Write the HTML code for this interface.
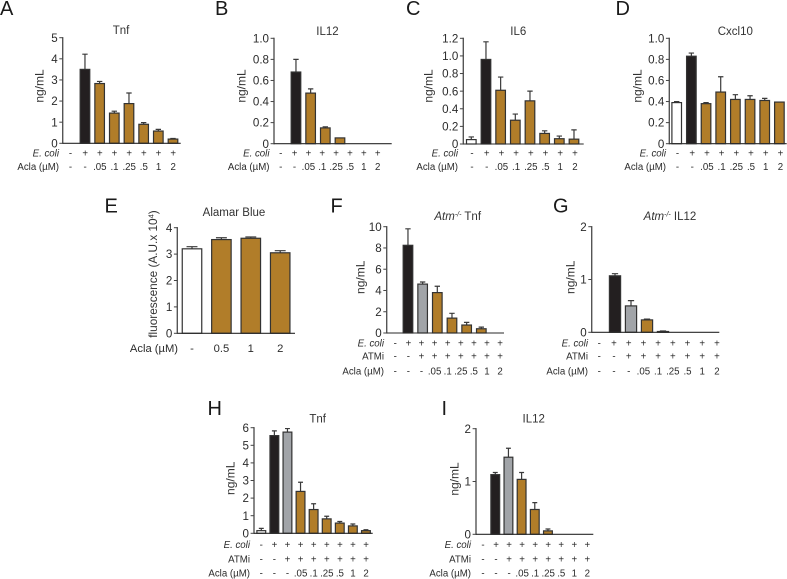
<!DOCTYPE html>
<html>
<head>
<meta charset="utf-8">
<title>Cytokine bar chart panels</title>
<style>
html,body{margin:0;padding:0;background:#fff;}
svg{display:block;font-family:"Liberation Sans",Arial,sans-serif;fill:#2b2b2b;}
.letter{font-size:20px;fill:#1a1a1a;}
.title{font-size:11.5px;text-anchor:middle;fill:#333;}
</style>
</head>
<body>
<svg id="figure" width="787" height="579" viewBox="0 0 787 579" xmlns="http://www.w3.org/2000/svg">
  <rect width="787" height="579" fill="#fff"/>
  <text class="letter" x="0" y="15">A</text>
  <text class="letter" x="215" y="15">B</text>
  <text class="letter" x="406" y="15">C</text>
  <text class="letter" x="615.5" y="15">D</text>
  <text class="letter" x="104.5" y="212.7">E</text>
  <text class="letter" x="330.5" y="212.7">F</text>
  <text class="letter" x="553" y="212.7">G</text>
  <text class="letter" x="207.5" y="415">H</text>
  <text class="letter" x="441.5" y="415">I</text>

  <text class="title" x="121" y="34">Tnf</text>
  <text class="title" x="327.5" y="35">IL12</text>
  <text class="title" x="518.3" y="35">IL6</text>
  <text class="title" x="735.3" y="35">Cxcl10</text>
  <text class="title" x="234" y="216">Alamar Blue</text>
  <text class="title" x="457.7" y="220"><tspan font-style="italic">Atm</tspan><tspan font-style="italic" font-size="7" dy="-3.5">-/-</tspan><tspan dy="3.5"> Tnf</tspan></text>
  <text class="title" x="670" y="220"><tspan font-style="italic">Atm</tspan><tspan font-style="italic" font-size="7" dy="-3.5">-/-</tspan><tspan dy="3.5"> IL12</tspan></text>
  <text class="title" x="317.7" y="422.7">Tnf</text>
  <text class="title" x="533.7" y="422.7">IL12</text>
  <text font-size="11.8" fill="#333" text-anchor="middle" transform="translate(157,274) rotate(-90)">fluorescence (A.U.x 10<tspan font-size="7.5" dy="-3.5">4</tspan><tspan dy="3.5">)</tspan></text>
</svg>
<script>
// Row labels
const ecoli8 = ['-','+','+','+','+','+','+','+'];
const acla8 = ['-','-','.05','.1','.25','.5','1','2'];
const ecoli9 = ['-','+','+','+','+','+','+','+','+'];
const atmi9 = ['-','-','+','+','+','+','+','+','+'];
const acla9 = ['-','-','-','.05','.1','.25','.5','1','2'];
const aclaE = ['-','0.5','1','2'];

// Tick labels
const ticksA = ['0','1','2','3','4','5'];
const ticksB = ['0','0.2','0.4','0.6','0.8','1.0'];
const ticksC = ['0','0.2','0.4','0.6','0.8','1.0','1.2'];
const ticksD = ['0','0.2','0.4','0.6','0.8','1.0'];
const ticksE = ['0','1','2','3','4'];
const ticksF = ['0','2','4','6','8','10'];
const ticksG = ['0','1','2'];
const ticksH = ['0','1','2','3','4','5','6'];
const ticksI = ['0','1','2'];

// Series values
const valuesA = [0,3.5,2.83,1.43,1.88,0.9,0.58,0.2];
const upperA = [0,4.22,2.93,1.52,2.38,0.98,0.66,0.23];
const kindsA = ['white','black','acla','acla','acla','acla','acla','acla'];

const valuesB = [0,0.68,0.48,0.15,0.055,0,0,0];
const upperB = [0,0.8,0.52,0.16,0.055,0,0,0];
const kindsB = ['white','black','acla','acla','acla','acla','acla','acla'];

const valuesC = [0.05,0.96,0.61,0.27,0.49,0.12,0.06,0.055];
const upperC = [0.08,1.16,0.76,0.34,0.6,0.15,0.09,0.16];
const kindsC = ['white','black','acla','acla','acla','acla','acla','acla'];

const valuesD = [0.39,0.83,0.38,0.49,0.42,0.42,0.41,0.395];
const upperD = [0.4,0.86,0.39,0.635,0.465,0.455,0.43,0.395];
const kindsD = ['white','black','acla','acla','acla','acla','acla','acla'];

const valuesE = [3.2,3.55,3.6,3.05];
const upperE = [3.28,3.62,3.65,3.13];
const kindsE = ['white','acla','acla','acla'];

const valuesF = [0,8.25,4.6,3.8,1.4,0.75,0.4,0];
const upperF = [0,9.8,4.8,4.4,1.85,1.0,0.55,0];
const kindsF = ['white','black','grey','acla','acla','acla','acla','acla'];

const valuesG = [0,1.07,0.5,0.235,0.015,0,0,0];
const upperG = [0,1.11,0.6,0.25,0.025,0,0,0];
const kindsG = ['white','black','grey','acla','acla','acla','acla','acla'];

const valuesH = [0.15,5.55,5.75,2.38,1.35,0.82,0.58,0.42,0.15];
const upperH = [0.28,5.82,5.95,2.9,1.68,0.97,0.67,0.53,0.2];
const kindsH = ['white','black','grey','acla','acla','acla','acla','acla','acla'];

const valuesI = [0,1.13,1.46,1.04,0.47,0.065,0,0,0];
const upperI = [0,1.17,1.63,1.17,0.6,0.1,0,0,0];
const kindsI = ['white','black','grey','acla','acla','acla','acla','acla','acla'];

const fills = {white:'#ffffff',black:'#231f20',grey:'#a1a4a8',acla:'#b17d29'};

const panels = [
 {id:'a',x0:62.7,x1:180.7,y0:143.3,yT:37.7,max:5,ticks:ticksA,vals:valuesA,up:upperA,kinds:kindsA,bs:70.3,st:14.67,bw:9.6,yt:[39.3,86],
  ls:70.5,lst:14.67,rowX:59,rows:[['E. coli',153.3,ecoli8,true],['Acla (µM)',166.7,acla8,false]]},
 {id:'b',x0:274,x1:391.7,y0:143.7,yT:38.3,max:1,ticks:ticksB,vals:valuesB,up:upperB,kinds:kindsB,bs:281.3,st:14.67,bw:9.6,yt:[241.7,86],
  ls:280.7,lst:13.85,rowX:269.5,rows:[['E. coli',153.3,ecoli8,true],['Acla (µM)',166.7,acla8,false]]},
 {id:'c',x0:463.3,x1:583.7,y0:144,yT:38.3,max:1.2,ticks:ticksC,vals:valuesC,up:upperC,kinds:kindsC,bs:471.3,st:14.67,bw:9.6,yt:[428.3,86],
  ls:472,lst:14.7,rowX:458,rows:[['E. coli',153.3,ecoli8,true],['Acla (µM)',166.7,acla8,false]]},
 {id:'d',x0:669.3,x1:786.7,y0:143.7,yT:38.3,max:1,ticks:ticksD,vals:valuesD,up:upperD,kinds:kindsD,bs:676.7,st:14.67,bw:9.6,yt:[637.3,86],
  ls:677.5,lst:14.7,rowX:666,rows:[['E. coli',153.3,ecoli8,true],['Acla (µM)',166.7,acla8,false]]},
 {id:'e',x0:177.3,x1:295,y0:333.3,yT:227.7,max:4,ticks:ticksE,vals:valuesE,up:upperE,kinds:kindsE,bs:192,st:29.4,bw:19.5,yt:null,
  ls:192,lst:29.4,rowX:178,fs:11.2,rows:[['Acla (µM)',348.7,aclaE,false]]},
 {id:'f',x0:386.7,x1:504,y0:333,yT:226.7,max:10,ticks:ticksF,vals:valuesF,up:upperF,kinds:kindsF,bs:393.3,st:14.67,bw:9.6,yt:[360.7,277.3],
  ls:395.3,lst:13.1,rowX:384,rows:[['E. coli',343,ecoli9,true],['ATMi',356.3,atmi9,false],['Acla (µM)',371,acla9,false]]},
 {id:'g',x0:591.7,x1:719.3,y0:332.3,yT:226.7,max:2,ticks:ticksG,vals:valuesG,up:upperG,kinds:kindsG,bs:599,st:16,bw:11.2,yt:[570.7,277.3],
  ls:599.3,lst:14.7,rowX:588,rows:[['E. coli',343,ecoli9,true],['ATMi',356.3,atmi9,false],['Acla (µM)',371.3,acla9,false]]},
 {id:'h',x0:254,x1:372.7,y0:533.3,yT:427.7,max:6,ticks:ticksH,vals:valuesH,up:upperH,kinds:kindsH,bs:261.3,st:13.08,bw:8.8,yt:[230.7,478.3],
  ls:261.3,lst:13.1,rowX:250,rows:[['E. coli',544.7,ecoli9,true],['ATMi',559.3,atmi9,false],['Acla (µM)',573.3,acla9,false]]},
 {id:'i',x0:476,x1:593.3,y0:534.3,yT:428.7,max:2,ticks:ticksI,vals:valuesI,up:upperI,kinds:kindsI,bs:482.1,st:13.17,bw:8.8,yt:[454.3,479],
  ls:483,lst:13.04,rowX:471,rows:[['E. coli',544.7,ecoli9,true],['ATMi',559.3,atmi9,false],['Acla (µM)',573.3,acla9,false]]}
];

const svg = document.getElementById('figure');
const NS = 'http://www.w3.org/2000/svg';
function make(tag, attrs, parent){
  const el = document.createElementNS(NS, tag);
  for (const k in attrs) el.setAttribute(k, attrs[k]);
  parent.appendChild(el);
  return el;
}
function renderPanel(p){
  const g = make('g', {}, svg);
  
  
  const yScale = v => p.y0 - v / p.max * (p.y0 - p.yT);
  const xScale = i => p.bs + i * p.st;
  const labelX = i => p.ls + i * p.lst;
  const small = p.fs || 9.7;

  p.vals.forEach((v, i) => {
    if (v <= 0) return;
    const cx = xScale(i);
    const top = yScale(v);
    const upY = yScale(p.up[i]);
    if (upY < top) {
      const err = make('path', {d:`M${cx} ${top}V${upY}M${cx - p.bw * 0.28} ${upY}H${cx + p.bw * 0.28}`, fill:'none', stroke:'#3a3a3a', 'stroke-width':1.2}, g);
      
      
    }
    const bar = make('rect', {x:cx - p.bw / 2, y:top, width:p.bw, height:p.y0 - top, fill:fills[p.kinds[i]], stroke:'#333', 'stroke-width':1.2}, g);
    
    
  });

  const yAxis = make('line', {x1:p.x0, x2:p.x0, y1:p.yT - 0.6, y2:p.y0 + 0.6, stroke:'#555', 'stroke-width':1.4}, g);
  
  
  const xAxis = make('line', {x1:p.x0, x2:p.x1, y1:p.y0, y2:p.y0, stroke:'#2a2a2a', 'stroke-width':1.1}, g);
  
  

  p.ticks.forEach(t => {
    const y = yScale(parseFloat(t));
    const tick = make('line', {x1:p.x0 - 3.4, x2:p.x0, y1:y, y2:y, stroke:'#444', 'stroke-width':1}, g);
    
    
    const lab = make('text', {x:p.x0 - 5, y:y + 4.1, 'font-size':11.6, 'text-anchor':'end'}, g);
    
    
    lab.textContent = t;
  });

  if (p.yt) {
    const yTitle = make('text', {'font-size':12, 'text-anchor':'middle', fill:'#333', transform:`translate(${p.yt[0] + 4},${p.yt[1]}) rotate(-90)`}, g);
    
    
    yTitle.textContent = 'ng/mL';
  }

  p.rows.forEach(r => {
    const head = make('text', {x:p.rowX, y:r[1] + 3.4, 'font-size':small, 'text-anchor':'end', 'font-style':r[3] ? 'italic' : 'normal'}, g);
    
    
    head.textContent = r[0];
    r[2].forEach((s, i) => {
      const cell = make('text', {x:labelX(i), y:r[1] + 3.4, 'font-size':small, 'text-anchor':'middle'}, g);
      
      
      cell.textContent = s;
    });
  });
}
panels.forEach(renderPanel);
</script>
</body>
</html>
